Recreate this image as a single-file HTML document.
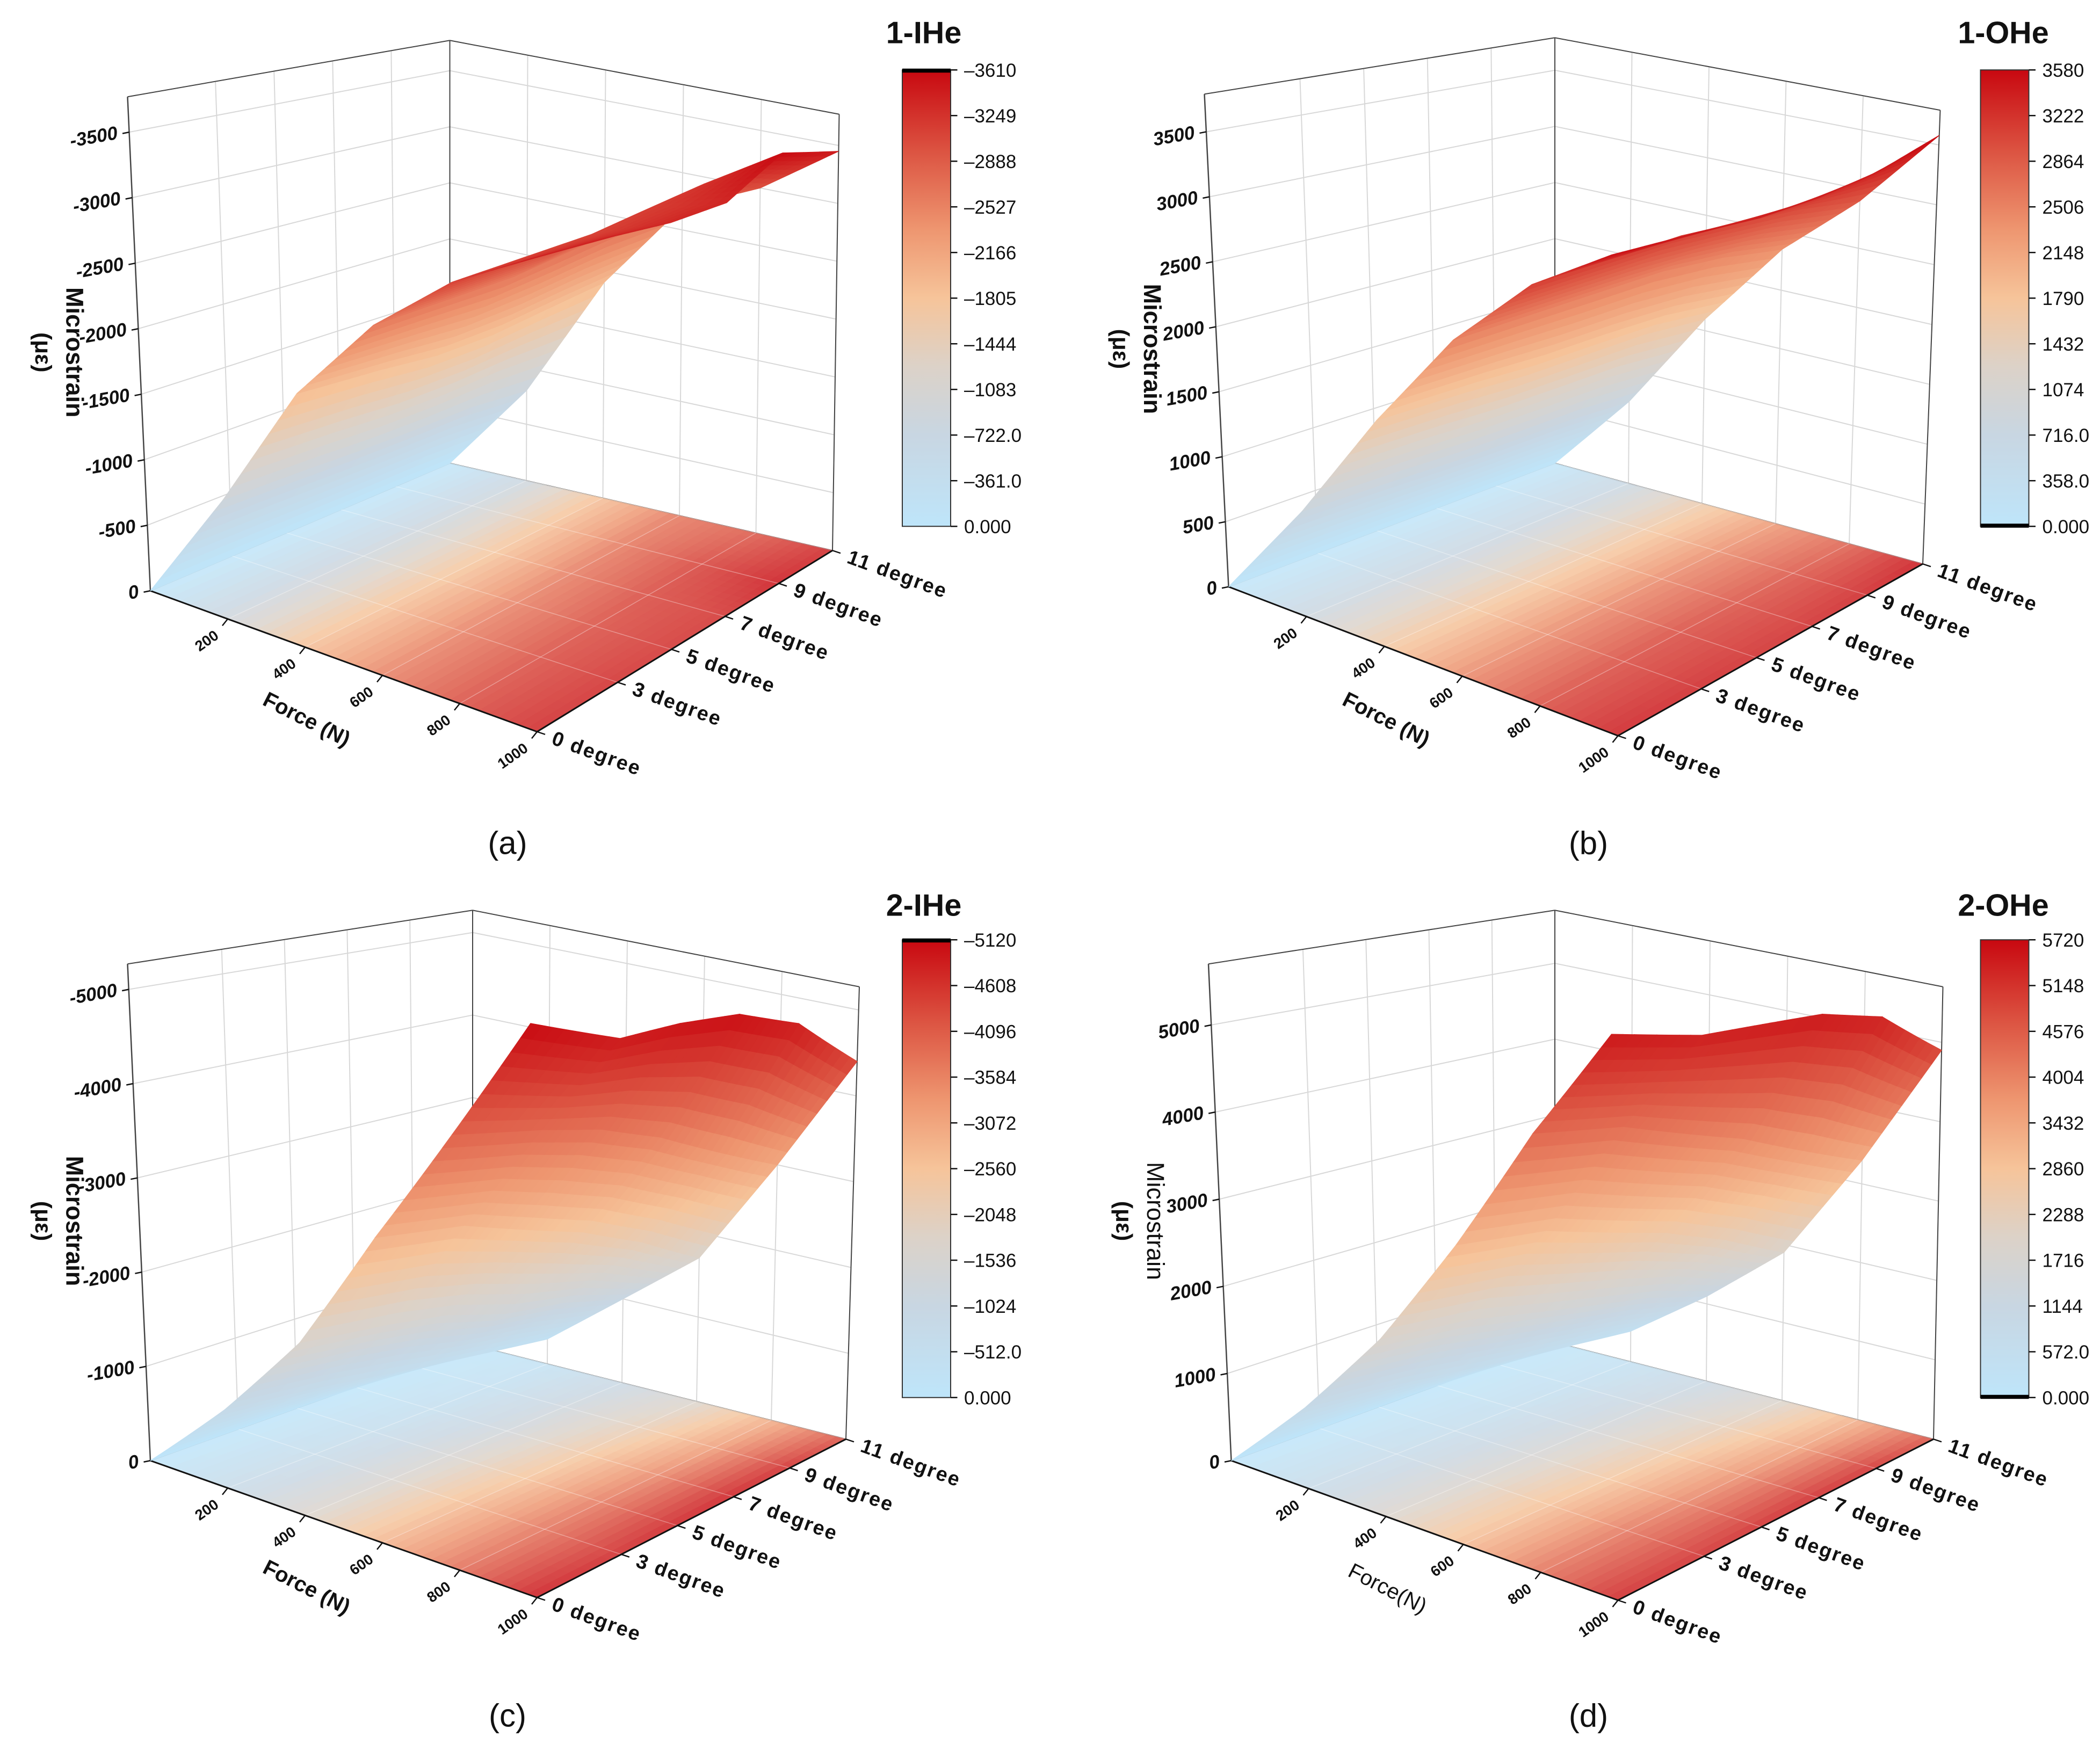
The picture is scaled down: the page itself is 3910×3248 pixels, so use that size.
<!DOCTYPE html>
<html><head><meta charset="utf-8">
<style>
html,body{margin:0;padding:0;background:#fff;}
svg{display:block;}
text{font-family:"Liberation Sans",sans-serif;}
</style></head>
<body>
<svg id="fig" width="3910" height="3248" viewBox="0 0 1564 1299" xmlns="http://www.w3.org/2000/svg"></svg>
<script>
// ---- data ----
const forces=[0,200,400,600,800,1000];
const angles=[0,3,5,7,9,11];
const forceTicks=[200,400,600,800,1000];
const angleLabels=["0 degree","3 degree","5 degree","7 degree","9 degree","11 degree"];
const valsA=[[0,0,0,0,0,0],[900,880,860,850,850,800],[1900,1850,1800,1800,1850,1900],[2600,2600,2600,2650,2700,2700],[3100,3100,3100,3150,3200,3000],[3450,3400,3350,3350,3600,3450]];
const valsB=[[0,0,0,0,0,0],[800,780,760,750,750,720],[1700,1680,1650,1650,1650,1600],[2500,2500,2500,2500,2450,2350],[3100,3100,3100,3050,3000,2900],[3500,3450,3400,3400,3450,3580]];
const valsC=[[0,0,0,0,0,0],[800,700,600,500,400,300],[1700,1600,1500,1300,1200,1000],[2900,2800,2600,2400,2100,1700],[4000,3900,3800,3600,3300,3000],[5100,4900,5000,5050,4900,4400]];
const valsD=[[0,0,0,0,0,0],[900,800,700,600,500,400],[1900,1800,1650,1500,1350,1100],[3100,3000,2800,2600,2300,1900],[4400,4300,4100,3900,3600,3300],[5500,5400,5450,5500,5400,4900]];
const zTicksA=[0,500,1000,1500,2000,2500,3000,3500];
const zTickLabA=["0","-500","-1000","-1500","-2000","-2500","-3000","-3500"];
const zTicksB=[0,500,1000,1500,2000,2500,3000,3500];
const zTickLabB=["0","500","1000","1500","2000","2500","3000","3500"];
const zTicksC=[0,1000,2000,3000,4000,5000];
const zTickLabC=["0","-1000","-2000","-3000","-4000","-5000"];
const zTicksD=[0,1000,2000,3000,4000,5000];
const zTickLabD=["0","1000","2000","3000","4000","5000"];
const cbLabA=["\u20133610","\u20133249","\u20132888","\u20132527","\u20132166","\u20131805","\u20131444","\u20131083","\u2013722.0","\u2013361.0","0.000"];
const cbLabB=["3580","3222","2864","2506","2148","1790","1432","1074","716.0","358.0","0.000"];
const cbLabC=["\u20135120","\u20134608","\u20134096","\u20133584","\u20133072","\u20132560","\u20132048","\u20131536","\u20131024","\u2013512.0","0.000"];
const cbLabD=["5720","5148","4576","4004","3432","2860","2288","1716","1144","572.0","0.000"];

const panels=[
 {id:"a",title:"1-IHe",vals:valsA,vmax:3610,zmax:3770,zt:zTicksA,zl:zTickLabA,cb:cbLabA,blackTop:true,sub:"(a)",subXY:[378,636],
  L:[112,440],Lt:[95,72],B:[335,345],Bt:[335,30],R:[620,410],Rt:[625,85],F:[400,545],Ft:[395,160],
  cbx:672,cby0:52,cby1:392,titleXY:[688,32],ftitle:"Force (N)",bold:true},
 {id:"b",title:"1-OHe",vals:valsB,vmax:3580,zmax:3790,zt:zTicksB,zl:zTickLabB,cb:cbLabB,blackTop:false,sub:"(b)",subXY:[1183,636],
  L:[915,437],Lt:[897,70],B:[1158,345],Bt:[1158,28],R:[1432,420],Rt:[1445,82],F:[1205,548],Ft:[1200,160],
  cbx:1475,cby0:52,cby1:392,titleXY:[1492,32],ftitle:"Force (N)",bold:true},
 {id:"c",title:"2-IHe",vals:valsC,vmax:5120,zmax:5270,zt:zTicksC,zl:zTickLabC,cb:cbLabC,blackTop:true,sub:"(c)",subXY:[378,1286],
  L:[112,1088],Lt:[95,718],B:[352,1002],Bt:[352,678],R:[630,1072],Rt:[640,735],F:[400,1190],Ft:[395,748],
  cbx:672,cby0:700,cby1:1041,titleXY:[688,682],ftitle:"Force (N)",bold:true},
 {id:"d",title:"2-OHe",vals:valsD,vmax:5720,zmax:5700,zt:zTicksD,zl:zTickLabD,cb:cbLabD,blackTop:false,sub:"(d)",subXY:[1183,1286],
  L:[917,1088],Lt:[900,718],B:[1158,1000],Bt:[1158,678],R:[1440,1072],Rt:[1447,735],F:[1205,1192],Ft:[1200,755],
  cbx:1475,cby0:700,cby1:1041,titleXY:[1492,682],ftitle:"Force(N)",bold:false}
];

const stops=[[0,[190,229,250]],[0.2,[200,214,226]],[0.35,[220,210,200]],[0.5,[246,196,154]],[0.65,[238,150,112]],[0.82,[220,84,66]],[1,[200,8,16]]];
function cmap(t){t=Math.max(0,Math.min(1,t));for(let i=1;i<stops.length;i++){if(t<=stops[i][0]){const a=stops[i-1],b=stops[i];const k=(t-a[0])/(b[0]-a[0]);return "rgb("+[0,1,2].map(j=>Math.round(a[1][j]+(b[1][j]-a[1][j])*k)).join(",")+")";}}return "rgb(200,8,16)";}

const NS="http://www.w3.org/2000/svg";
const svg=document.getElementById("fig");
function mk(tag,attrs,parent){const e=document.createElementNS(NS,tag);for(const k in attrs)e.setAttribute(k,attrs[k]);(parent||svg).appendChild(e);return e;}
function bil(p,q,r,s,u,v){return [p[0]*(1-u)*(1-v)+q[0]*u*(1-v)+r[0]*u*v+s[0]*(1-u)*v,p[1]*(1-u)*(1-v)+q[1]*u*(1-v)+r[1]*u*v+s[1]*(1-u)*v];}
function proj(P,f,a,z){const u=f/1000,v=a/11;const fl=bil(P.L,P.F,P.R,P.B,u,v);const tp=bil(P.Lt,P.Ft,P.Rt,P.Bt,u,v);const t=z/P.zmax;return [fl[0]+(tp[0]-fl[0])*t,fl[1]+(tp[1]-fl[1])*t];}
function line(g,p,q,col,w,name){const l=mk("line",{x1:p[0],y1:p[1],x2:q[0],y2:q[1],stroke:col,"stroke-width":w},g);


return l;}
function txt(g,x,y,s,size,weight,anchor,rot,name,extra){const t=mk("text",{x:x,y:y,"font-size":size,"font-weight":weight,"text-anchor":anchor,fill:"#111"},g);
if(rot)t.setAttribute("transform","rotate("+rot+" "+x+" "+y+")");
if(extra)for(const k in extra)t.setAttribute(k,extra[k]);
t.textContent=s;


return t;}
function valAt(vals,fi,ai,s,t){const v00=vals[fi][ai],v10=vals[fi+1][ai],v11=vals[fi+1][ai+1],v01=vals[fi][ai+1];return v00*(1-s)*(1-t)+v10*s*(1-t)+v11*s*t+v01*(1-s)*t;}

panels.forEach(P=>{
 const g=mk("g",{});
 
 
 const gridCol="#d8d8d8", axCol="#444";
 P.zt.forEach(z=>{line(g,proj(P,0,0,z),proj(P,0,11,z),gridCol,0.8,'wall-grid-h');line(g,proj(P,0,11,z),proj(P,1000,11,z),gridCol,0.8,'wall-grid-h');});
 angles.forEach(a=>{line(g,proj(P,0,a,0),proj(P,0,a,P.zmax),gridCol,0.8,'wall-grid-v');});
 forces.forEach(f=>{line(g,proj(P,f,11,0),proj(P,f,11,P.zmax),gridCol,0.8,'wall-grid-v');});
 line(g,proj(P,0,0,0),proj(P,0,0,P.zmax),axCol,1,'z-axis-line');
 line(g,proj(P,0,11,0),proj(P,0,11,P.zmax),axCol,0.8,'back-edge');
 line(g,proj(P,1000,11,0),proj(P,1000,11,P.zmax),axCol,0.8,'right-edge');
 line(g,proj(P,0,0,P.zmax),proj(P,0,11,P.zmax),axCol,0.8,'top-edge');
 line(g,proj(P,0,11,P.zmax),proj(P,1000,11,P.zmax),axCol,0.8,'top-edge');
 line(g,proj(P,0,0,0),proj(P,0,11,0),axCol,0.8,'floor-edge');
 line(g,proj(P,0,11,0),proj(P,1000,11,0),axCol,0.8,'floor-edge');
 const N=8, quadsF=[], quadsS=[];
 for(let fi=0;fi<forces.length-1;fi++)for(let ai=0;ai<angles.length-1;ai++)for(let i=0;i<N;i++)for(let j=0;j<N;j++){
  const s0=i/N,s1=(i+1)/N,t0=j/N,t1=(j+1)/N;
  const fA=x=>forces[fi]+(forces[fi+1]-forces[fi])*x, aA=x=>angles[ai]+(angles[ai+1]-angles[ai])*x;
  const corners=[[s0,t0],[s1,t0],[s1,t1],[s0,t1]];
  const vs=corners.map(c=>valAt(P.vals,fi,ai,c[0],c[1]));
  const avg=(vs[0]+vs[1]+vs[2]+vs[3])/4;
  const col=cmap(avg/P.vmax);
  const fl=corners.map(c=>proj(P,fA(c[0]),aA(c[1]),0));
  const su=corners.map((c,k)=>proj(P,fA(c[0]),aA(c[1]),vs[k]));
  const depth=aA(0.5*(t0+t1))/11-fA(0.5*(s0+s1))/1000;
  quadsF.push({pts:fl,col:col});
  quadsS.push({pts:su,col:col,d:depth});
 }
 const fg=mk("g",{opacity:0.82},g);
 
 
 quadsF.forEach(q=>{const p=mk("polygon",{points:q.pts.map(x=>x.map(n=>n.toFixed(2)).join(",")).join(" "),fill:q.col,stroke:q.col,"stroke-width":0.5},fg);
 
 });
 forces.forEach(f=>line(g,proj(P,f,0,0),proj(P,f,11,0),"rgba(255,255,255,0.35)",0.6,'floor-grid'));
 angles.forEach(a=>line(g,proj(P,0,a,0),proj(P,1000,a,0),"rgba(255,255,255,0.35)",0.6,'floor-grid'));
 line(g,proj(P,0,0,0),proj(P,1000,0,0),"#111",1.2,'force-axis-line');
 line(g,proj(P,1000,0,0),proj(P,1000,11,0),"#111",1.2,'angle-axis-line');
 const sg=mk("g",{},g);
 
 
 quadsS.sort((x,y)=>y.d-x.d).forEach(q=>{const p=mk("polygon",{points:q.pts.map(x=>x.map(n=>n.toFixed(2)).join(",")).join(" "),fill:q.col,stroke:q.col,"stroke-width":0.5},sg);
 
 });
 P.zt.forEach((z,i)=>{const p=proj(P,0,0,z);line(g,p,[p[0]-5,p[1]+1],"#111",1,'z-tick');
  txt(g,p[0]-8,p[1]+5,P.zl[i],14,"bold","end",-10,'z-tick-label',{"font-style":"italic"});});
 forceTicks.forEach(f=>{const p=proj(P,f,0,0);line(g,p,[p[0]-4,p[1]+5],"#111",1,'force-tick');
  txt(g,p[0]-6,p[1]+14,String(f),11,"bold","end",-35,'force-tick-label');});
 angles.forEach((a,i)=>{const p=proj(P,1000,a,0);line(g,p,[p[0]+6,p[1]+2],"#111",1,'angle-tick');
  txt(g,p[0]+10,p[1]+9,angleLabels[i],15,"bold","start",20,'angle-tick-label',{"letter-spacing":"1"});});
 const fm=proj(P,500,0,0);
 txt(g,fm[0]-30,fm[1]+48,P.ftitle,16,P.bold?"bold":"normal","middle",27,'force-axis-title');
 const zm=proj(P,0,0,P.zmax*0.45);
 txt(g,zm[0]-55,zm[1]-12,"Microstrain",18,P.bold?"bold":"normal","middle",90,'z-axis-title');
 txt(g,zm[0]-78,zm[1]-12,"(\u03bc\u03b5)",17,"bold","middle",90,'z-axis-unit');
 const defs=mk("defs",{},g);
 const lg=mk("linearGradient",{id:"grad"+P.id,x1:0,y1:1,x2:0,y2:0},defs);
 stops.forEach(s=>{mk("stop",{offset:s[0],"stop-color":cmap(s[0])},lg);});
 const bar=mk("rect",{x:P.cbx,y:P.cby0,width:36,height:P.cby1-P.cby0,fill:"url(#grad"+P.id+")",stroke:"#333","stroke-width":0.8},g);
 
 
 const blk=mk("rect",{x:P.cbx,y:P.blackTop?P.cby0-1:P.cby1-2,width:36,height:3,fill:"#000"},g);
 
 
 P.cb.forEach((s,i)=>{const y=P.cby0+(P.cby1-P.cby0)*i/(P.cb.length-1);
  line(g,[P.cbx+36,y],[P.cbx+41,y],"#111",1,'colorbar-tick');
  txt(g,P.cbx+46,y+5,s,14,"normal","start",0,'colorbar-tick-label');});
 txt(g,P.titleXY[0],P.titleXY[1],P.title,23,"bold","middle",0,'panel-title');
 txt(g,P.subXY[0],P.subXY[1],P.sub,24,"normal","middle",0,'panel-label',{"font-family":"Liberation Serif, serif"});
});
</script>
</body></html>
